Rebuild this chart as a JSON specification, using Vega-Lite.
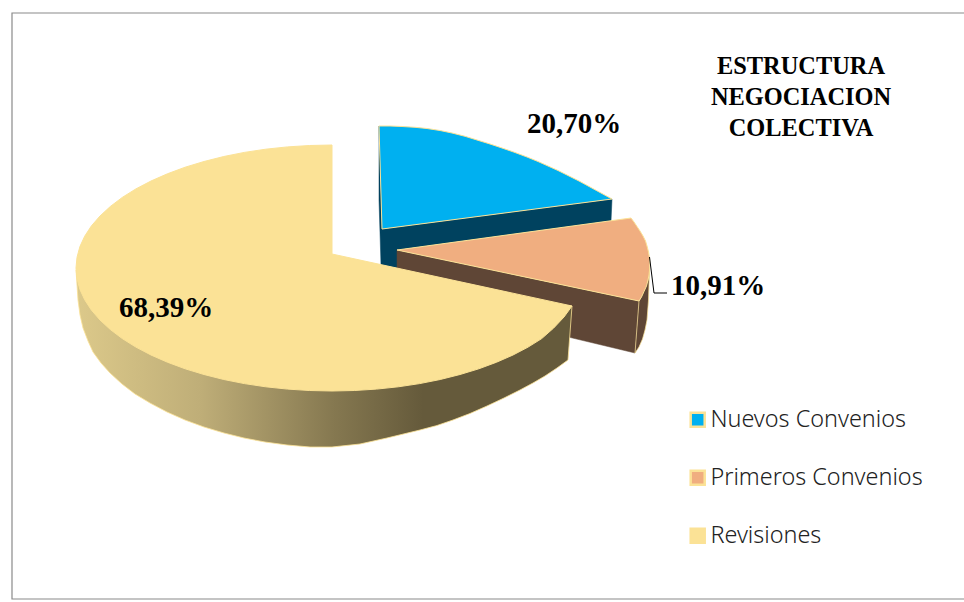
{"$schema":"https://vega.github.io/schema/vega-lite/v6.json","width":964,"height":602,"padding":0,"autosize":{"type":"none"},"background":"#ffffff","config":{"view":{"stroke":null},"axis":{"disable":true}},
"datasets":{
"frame":[{"x":12,"y":13,"x2":970,"y2":599}],
"tops":[
{"slice":"Nuevos Convenios","n":1,"x":379,"y":126},{"slice":"Nuevos Convenios","n":2,"x":390,"y":126},{"slice":"Nuevos Convenios","n":3,"x":402,"y":126.5},{"slice":"Nuevos Convenios","n":4,"x":415,"y":127.3},{"slice":"Nuevos Convenios","n":5,"x":427,"y":128.5},{"slice":"Nuevos Convenios","n":6,"x":440,"y":130.5},{"slice":"Nuevos Convenios","n":7,"x":452,"y":133},{"slice":"Nuevos Convenios","n":8,"x":465,"y":136.3},{"slice":"Nuevos Convenios","n":9,"x":477,"y":140},{"slice":"Nuevos Convenios","n":10,"x":490,"y":144},{"slice":"Nuevos Convenios","n":11,"x":502,"y":148},{"slice":"Nuevos Convenios","n":12,"x":515,"y":152.5},{"slice":"Nuevos Convenios","n":13,"x":527,"y":157},{"slice":"Nuevos Convenios","n":14,"x":538,"y":161.5},{"slice":"Nuevos Convenios","n":15,"x":548,"y":166},{"slice":"Nuevos Convenios","n":16,"x":558,"y":170.5},{"slice":"Nuevos Convenios","n":17,"x":567,"y":175},{"slice":"Nuevos Convenios","n":18,"x":579,"y":181},{"slice":"Nuevos Convenios","n":19,"x":590,"y":187},{"slice":"Nuevos Convenios","n":20,"x":601,"y":193},{"slice":"Nuevos Convenios","n":21,"x":612,"y":199},{"slice":"Nuevos Convenios","n":22,"x":382,"y":229},
{"slice":"Primeros Convenios","n":1,"x":397,"y":250},{"slice":"Primeros Convenios","n":2,"x":631,"y":218},{"slice":"Primeros Convenios","n":3,"x":634,"y":222},{"slice":"Primeros Convenios","n":4,"x":637,"y":226.5},{"slice":"Primeros Convenios","n":5,"x":640,"y":231},{"slice":"Primeros Convenios","n":6,"x":643,"y":236},{"slice":"Primeros Convenios","n":7,"x":645.5,"y":241},{"slice":"Primeros Convenios","n":8,"x":647,"y":246},{"slice":"Primeros Convenios","n":9,"x":648.5,"y":252},{"slice":"Primeros Convenios","n":10,"x":649.5,"y":258},{"slice":"Primeros Convenios","n":11,"x":649.8,"y":264},{"slice":"Primeros Convenios","n":12,"x":649.5,"y":270},{"slice":"Primeros Convenios","n":13,"x":649,"y":275},{"slice":"Primeros Convenios","n":14,"x":648,"y":280},{"slice":"Primeros Convenios","n":15,"x":646.5,"y":286},{"slice":"Primeros Convenios","n":16,"x":644,"y":291.5},{"slice":"Primeros Convenios","n":17,"x":641.5,"y":297},{"slice":"Primeros Convenios","n":18,"x":639,"y":301},
{"slice":"Revisiones","n":1,"x":332,"y":145},{"slice":"Revisiones","n":2,"x":309.7,"y":145.5},{"slice":"Revisiones","n":3,"x":287.5,"y":146.9},{"slice":"Revisiones","n":4,"x":265.7,"y":149.2},{"slice":"Revisiones","n":5,"x":244.4,"y":152.4},{"slice":"Revisiones","n":6,"x":223.8,"y":156.5},{"slice":"Revisiones","n":7,"x":204,"y":161.5},{"slice":"Revisiones","n":8,"x":185.2,"y":167.2},{"slice":"Revisiones","n":9,"x":167.4,"y":173.8},{"slice":"Revisiones","n":10,"x":151,"y":181},{"slice":"Revisiones","n":11,"x":135.9,"y":188.9},{"slice":"Revisiones","n":12,"x":122.3,"y":197.4},{"slice":"Revisiones","n":13,"x":110.3,"y":206.5},{"slice":"Revisiones","n":14,"x":100,"y":216},{"slice":"Revisiones","n":15,"x":91.4,"y":225.9},{"slice":"Revisiones","n":16,"x":84.7,"y":236.2},{"slice":"Revisiones","n":17,"x":79.9,"y":246.6},{"slice":"Revisiones","n":18,"x":77,"y":257.3},{"slice":"Revisiones","n":19,"x":76,"y":268},{"slice":"Revisiones","n":20,"x":77,"y":278.7},{"slice":"Revisiones","n":21,"x":79.9,"y":289.4},{"slice":"Revisiones","n":22,"x":84.7,"y":299.8},{"slice":"Revisiones","n":23,"x":91.4,"y":310.1},{"slice":"Revisiones","n":24,"x":100,"y":320},{"slice":"Revisiones","n":25,"x":110.3,"y":329.5},{"slice":"Revisiones","n":26,"x":122.3,"y":338.6},{"slice":"Revisiones","n":27,"x":135.9,"y":347.1},{"slice":"Revisiones","n":28,"x":151,"y":355},{"slice":"Revisiones","n":29,"x":167.4,"y":362.2},{"slice":"Revisiones","n":30,"x":185.2,"y":368.8},{"slice":"Revisiones","n":31,"x":204,"y":374.5},{"slice":"Revisiones","n":32,"x":223.8,"y":379.5},{"slice":"Revisiones","n":33,"x":244.4,"y":383.6},{"slice":"Revisiones","n":34,"x":265.7,"y":386.8},{"slice":"Revisiones","n":35,"x":287.5,"y":389.1},{"slice":"Revisiones","n":36,"x":309.7,"y":390.5},{"slice":"Revisiones","n":37,"x":332,"y":391},{"slice":"Revisiones","n":38,"x":354.3,"y":390.5},{"slice":"Revisiones","n":39,"x":376.5,"y":389.1},{"slice":"Revisiones","n":40,"x":398.3,"y":386.8},{"slice":"Revisiones","n":41,"x":419.6,"y":383.6},{"slice":"Revisiones","n":42,"x":440.2,"y":379.5},{"slice":"Revisiones","n":43,"x":460,"y":374.5},{"slice":"Revisiones","n":44,"x":478.8,"y":368.8},{"slice":"Revisiones","n":45,"x":496.6,"y":362.2},{"slice":"Revisiones","n":46,"x":513,"y":355},{"slice":"Revisiones","n":47,"x":528.1,"y":347.1},{"slice":"Revisiones","n":48,"x":541.7,"y":338.6},{"slice":"Revisiones","n":49,"x":553.7,"y":328},{"slice":"Revisiones","n":50,"x":564,"y":317},{"slice":"Revisiones","n":51,"x":572,"y":306},{"slice":"Revisiones","n":52,"x":332,"y":254}],
"blueSide":[{"n":1,"x":379,"y":126},{"n":2,"x":382,"y":229},{"n":3,"x":612,"y":199},{"n":4,"x":611,"y":221},{"n":5,"x":397,"y":250},{"n":6,"x":397,"y":268},{"n":7,"x":381,"y":265},{"n":8,"x":379,"y":200}],
"brownSide":[{"n":1,"x":397,"y":250},{"n":2,"x":639,"y":301},{"n":3,"x":635,"y":353},{"n":4,"x":397,"y":296}],
"brownRim":[{"n":1,"x":649.5,"y":270},{"n":2,"x":648,"y":280},{"n":3,"x":639,"y":301},{"n":4,"x":635,"y":353},{"n":5,"x":639,"y":347},{"n":6,"x":642.5,"y":339},{"n":7,"x":645,"y":330},{"n":8,"x":647,"y":320},{"n":9,"x":648.5,"y":300}],
"yellowSide":[{"n":1,"x":76,"y":270},{"n":2,"x":572,"y":306},{"n":3,"x":568,"y":360},{"n":4,"x":557,"y":368},{"n":5,"x":545,"y":376},{"n":6,"x":533,"y":383},{"n":7,"x":520,"y":390},{"n":8,"x":504,"y":398},{"n":9,"x":487,"y":406},{"n":10,"x":470,"y":413.5},{"n":11,"x":453,"y":420},{"n":12,"x":437,"y":425.5},{"n":13,"x":420,"y":430},{"n":14,"x":387,"y":438},{"n":15,"x":360,"y":444},{"n":16,"x":332,"y":447},{"n":17,"x":310,"y":447},{"n":18,"x":287,"y":445},{"n":19,"x":265,"y":442},{"n":20,"x":244,"y":438},{"n":21,"x":224,"y":433},{"n":22,"x":204,"y":427},{"n":23,"x":185,"y":420},{"n":24,"x":167,"y":412},{"n":25,"x":150,"y":403},{"n":26,"x":135,"y":394},{"n":27,"x":122,"y":384},{"n":28,"x":110,"y":373},{"n":29,"x":101,"y":363},{"n":30,"x":93,"y":352},{"n":31,"x":88,"y":341},{"n":32,"x":83,"y":328},{"n":33,"x":80,"y":315},{"n":34,"x":78,"y":300},{"n":35,"x":77,"y":285}],
"leader":[{"n":1,"x":649.5,"y":257},{"n":2,"x":654,"y":293},{"n":3,"x":667,"y":293}],
"labels":[{"share":"20,70%","x":574,"y":124},{"share":"10,91%","x":718,"y":286},{"share":"68,39%","x":166,"y":308}],
"title":[{"line":"ESTRUCTURA","x":801,"y":67},{"line":"NEGOCIACION","x":801,"y":98},{"line":"COLECTIVA","x":801,"y":129}]
},
"encoding":{"x":{"type":"quantitative","scale":{"domain":[0,964],"nice":false,"zero":false},"axis":null},"y":{"type":"quantitative","scale":{"domain":[602,0],"nice":false,"zero":false},"axis":null}},
"layer":[
{"data":{"name":"frame"},"mark":{"type":"rect","fill":null,"stroke":"#8a8a8a","strokeWidth":1.2,"clip":true},"encoding":{"x":{"field":"x","type":"quantitative","scale":{"domain":[0,964],"nice":false,"zero":false},"axis":null},"x2":{"field":"x2"},"y":{"field":"y","type":"quantitative","scale":{"domain":[602,0],"nice":false,"zero":false},"axis":null},"y2":{"field":"y2"}}},
{"data":{"name":"blueSide"},"mark":{"type":"line","fill":"#00425F","stroke":"#00425F","strokeWidth":0.5,"interpolate":"linear-closed"},"encoding":{"x":{"field":"x","type":"quantitative"},"y":{"field":"y","type":"quantitative"},"order":{"field":"n"}}},
{"data":{"name":"brownSide"},"mark":{"type":"line","fill":"#5F4636","stroke":"#5F4636","strokeWidth":0.5,"interpolate":"linear-closed"},"encoding":{"x":{"field":"x","type":"quantitative"},"y":{"field":"y","type":"quantitative"},"order":{"field":"n"}}},
{"data":{"name":"brownRim"},"mark":{"type":"line","fill":"#5F4636","stroke":"#FBE296","strokeWidth":0.7,"interpolate":"linear-closed"},"encoding":{"x":{"field":"x","type":"quantitative"},"y":{"field":"y","type":"quantitative"},"order":{"field":"n"}}},
{"data":{"name":"yellowSide"},"mark":{"type":"line","stroke":"#FBE296","strokeWidth":0.8,"interpolate":"linear-closed","fill":{"gradient":"linear","x1":0,"y1":0,"x2":1,"y2":0,"stops":[{"offset":0,"color":"#DCC98A"},{"offset":0.25,"color":"#BFAE78"},{"offset":0.52,"color":"#857850"},{"offset":0.7,"color":"#655A3B"},{"offset":1,"color":"#655A3B"}]}},"encoding":{"x":{"field":"x","type":"quantitative"},"y":{"field":"y","type":"quantitative"},"order":{"field":"n"}}},
{"data":{"name":"tops"},"mark":{"type":"line","stroke":"#FBE296","strokeWidth":1,"interpolate":"linear-closed"},"encoding":{"x":{"field":"x","type":"quantitative"},"y":{"field":"y","type":"quantitative"},"order":{"field":"n"},"detail":{"field":"slice"},"fill":{"field":"slice","type":"nominal","scale":{"domain":["Nuevos Convenios","Primeros Convenios","Revisiones"],"range":["#00B0F0","#F0AE80","#FBE296"]},"legend":{"title":null,"orient":"none","legendX":686,"legendY":408,"symbolType":"square","symbolSize":196,"symbolStrokeColor":"#FBE296","symbolStrokeWidth":2.5,"labelFont":"Noto Sans","labelFontWeight":300,"labelFontSize":23.4,"labelColor":"#222222","labelLimit":280,"rowPadding":33,"labelOffset":1,"symbolOpacity":1}}}},
{"data":{"name":"leader"},"mark":{"type":"line","stroke":"#000000","strokeWidth":1},"encoding":{"x":{"field":"x","type":"quantitative"},"y":{"field":"y","type":"quantitative"},"order":{"field":"n"}}},
{"data":{"name":"labels"},"mark":{"type":"text","font":"Liberation Serif","fontWeight":"bold","fontSize":29,"color":"#000000","align":"center","baseline":"middle"},"encoding":{"x":{"field":"x","type":"quantitative"},"y":{"field":"y","type":"quantitative"},"text":{"field":"share"}}},
{"data":{"name":"title"},"mark":{"type":"text","font":"Liberation Serif","fontWeight":"bold","fontSize":24.4,"color":"#000000","align":"center","baseline":"middle"},"encoding":{"x":{"field":"x","type":"quantitative"},"y":{"field":"y","type":"quantitative"},"text":{"field":"line"}}}
]}
